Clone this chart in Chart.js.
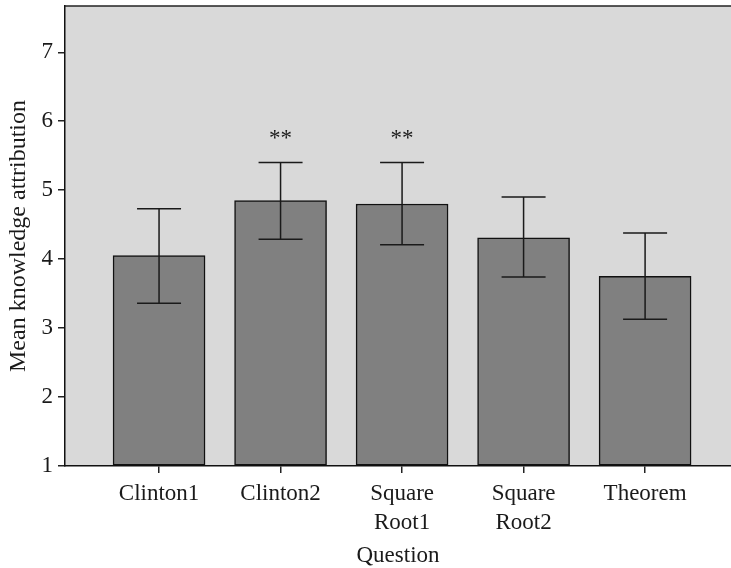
<!DOCTYPE html>
<html>
<head>
<meta charset="utf-8">
<script src="https://cdn.jsdelivr.net/npm/chart.js@4/dist/chart.umd.min.js"></script>
<style>
  html, body { margin: 0; padding: 0; background: #fff; }
  #wrap { width: 731px; height: 568px; position: relative; }
</style>
</head>
<body>
<div id="wrap"><canvas id="c" width="731" height="568"></canvas></div>
<script>
// ---- data ----
const categories = [["Clinton1"], ["Clinton2"], ["Square", "Root1"], ["Square", "Root2"], ["Theorem"]];
const means      = [4.05, 4.85, 4.80, 4.31, 3.75];
const errHigh    = [4.73, 5.40, 5.40, 4.90, 4.38];
const errLow     = [3.36, 4.29, 4.21, 3.74, 3.13];
const significance = ["", "**", "**", "", ""];
const yTicks     = [1, 2, 3, 4, 5, 6, 7];

const FONT = "'Liberation Serif', 'Times New Roman', serif";
const TXT = '#1a1a1a';

const bgPlugin = {
  id: 'bg',
  beforeDraw(chart) {
    const { ctx, chartArea: a } = chart;
    ctx.save();
    ctx.fillStyle = '#d9d9d9';
    ctx.fillRect(a.left, a.top, a.right - a.left, a.bottom - a.top);
    ctx.restore();
  },
  afterDraw(chart) {
    const { ctx, chartArea: a } = chart;
    ctx.save();
    ctx.strokeStyle = '#222';
    ctx.lineWidth = 1.5;
    ctx.beginPath();
    ctx.moveTo(a.left, a.top);
    ctx.lineTo(a.right, a.top);
    ctx.stroke();
    ctx.restore();
  }
};

const errPlugin = {
  id: 'err',
  afterDatasetsDraw(chart) {
    const { ctx } = chart;
    const xs = chart.scales.x, ys = chart.scales.y;
    ctx.save();
    ctx.strokeStyle = '#1a1a1a';
    ctx.lineWidth = 1.5;
    const cap = 22;
    for (let i = 0; i < means.length; i++) {
      const x = xs.getPixelForValue(i);
      const yh = ys.getPixelForValue(errHigh[i]);
      const yl = ys.getPixelForValue(errLow[i]);
      ctx.beginPath();
      ctx.moveTo(x, yh); ctx.lineTo(x, yl);
      ctx.moveTo(x - cap, yh); ctx.lineTo(x + cap, yh);
      ctx.moveTo(x - cap, yl); ctx.lineTo(x + cap, yl);
      ctx.stroke();
      if (significance[i]) {
        ctx.fillStyle = TXT;
        ctx.font = "23px " + FONT;
        ctx.textAlign = 'center';
        ctx.textBaseline = 'middle';
        ctx.fillText(significance[i], x, yh - 24);
      }
    }
    ctx.restore();
  }
};

new Chart(document.getElementById('c'), {
  type: 'bar',
  data: {
    datasets: [{
      data: means.map((v, i) => ({ x: i, y: v })),
      backgroundColor: '#808080',
      borderColor: '#111',
      borderWidth: 1.5,
      borderSkipped: false,
      barThickness: 92,
      base: 1
    }]
  },
  options: {
    responsive: false,
    animation: false,
    events: [],
    layout: { padding: { top: 6, right: 0, left: 0, bottom: 0 } },
    plugins: { legend: { display: false }, tooltip: { enabled: false } },
    scales: {
      x: {
        type: 'linear',
        offset: false,
        min: -0.774,
        max: 4.707,
        afterBuildTicks: s => { s.ticks = categories.map((c, i) => ({ value: i })); },
        afterFit: s => { s.height = 102; },
        ticks: {
          callback: v => categories[v],
          color: TXT,
          font: { family: FONT, size: 23, lineHeight: 1.25 },
          padding: 7,
          maxRotation: 0,
          autoSkip: false
        },
        grid: { display: true, offset: false, drawOnChartArea: false, drawTicks: true, tickLength: 7, color: '#222', lineWidth: 1.5 },
        border: { display: true, color: '#111', width: 1.5 },
        title: { display: true, text: 'Question', color: TXT, font: { family: FONT, size: 23 }, padding: { top: 0, bottom: -2 } }
      },
      y: {
        min: 1,
        max: 7.671,
        afterBuildTicks: s => { s.ticks = yTicks.map(v => ({ value: v })); },
        afterFit: s => { s.width = 65; },
        ticks: {
          color: TXT,
          font: { family: FONT, size: 23, lineHeight: 0.05 },
          padding: 5
        },
        grid: { display: true, drawOnChartArea: false, drawTicks: true, tickLength: 7, color: '#222', lineWidth: 1.5 },
        border: { display: true, color: '#111', width: 1.5 },
        title: { display: true, text: 'Mean knowledge attribution', color: TXT, font: { family: FONT, size: 24 }, padding: { top: 4, bottom: 0 } }
      }
    }
  },
  plugins: [bgPlugin, errPlugin]
});
</script>
</body>
</html>
